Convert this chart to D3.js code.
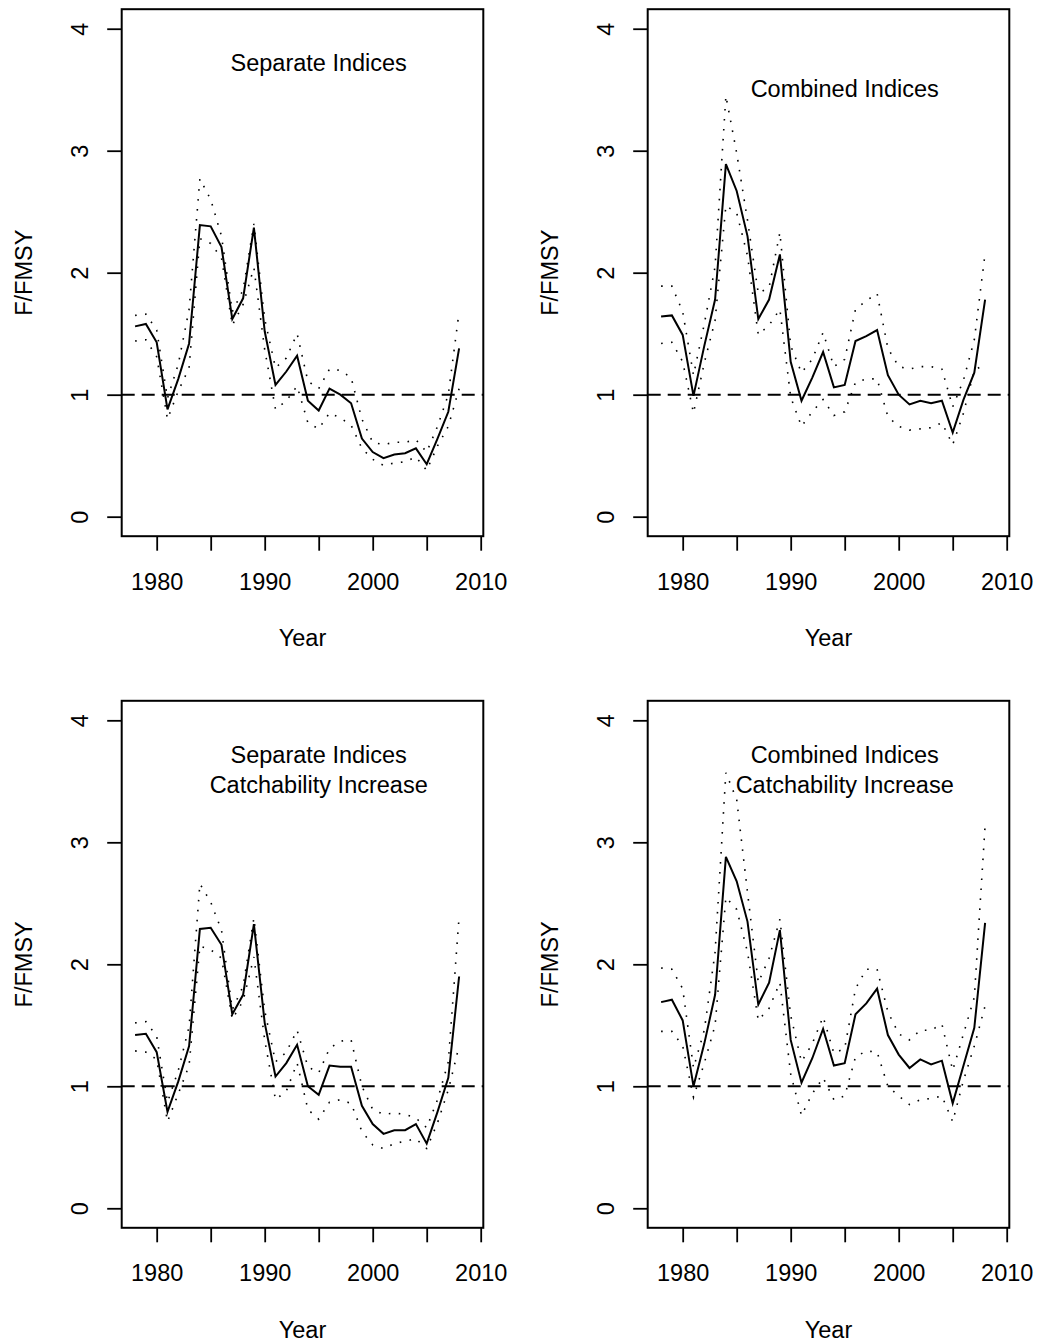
<!DOCTYPE html>
<html lang="en">
<head>
    <meta charset="UTF-8">
    <title>F/FMSY estimates</title>
    <script src="https://d3js.org/d3.v7.min.js"></script>
    <style>
        body {
            margin: 0;
            background: #fff;
        }

        svg text {
            font-family: "Liberation Sans", Arial, sans-serif;
            font-size: 23.5px;
            fill: #000;
        }

        .box {
            fill: none;
            stroke: #000;
            stroke-width: 2px;
        }

        .axis line {
            stroke: #000;
            stroke-width: 1.8px;
        }

        .est {
            fill: none;
            stroke: #000;
            stroke-width: 2px;
        }

        .ci {
            fill: none;
            stroke: #000;
            stroke-width: 1.6px;
            stroke-dasharray: 1.6 8.4;
        }

        .ref {
            stroke: #000;
            stroke-width: 2px;
            stroke-dasharray: 13 7;
        }
    </style>
</head>
<body>
<svg id="chart"></svg>
<script>
    // years 1978 - 2008
    const years = d3.range(1978, 2009);

    // Separate indices
    const sepEst   = [1.56, 1.58, 1.43, 0.88, 1.13, 1.42, 2.39, 2.38, 2.21, 1.62, 1.79, 2.37, 1.52, 1.08, 1.19, 1.32,
                      0.95, 0.87, 1.05, 1.00, 0.93, 0.64, 0.53, 0.48, 0.51, 0.52, 0.56, 0.43, 0.64, 0.86, 1.38];
    const sepUpper = [1.65, 1.66, 1.53, 0.97, 1.25, 1.70, 2.77, 2.60, 2.30, 1.68, 1.86, 2.40, 1.62, 1.22, 1.30, 1.50,
                      1.11, 1.05, 1.21, 1.20, 1.14, 0.80, 0.61, 0.59, 0.61, 0.61, 0.63, 0.53, 0.74, 1.00, 1.68];
    const sepLower = [1.44, 1.45, 1.31, 0.80, 1.03, 1.22, 2.28, 2.24, 2.12, 1.57, 1.74, 2.04, 1.37, 0.88, 0.95, 1.07,
                      0.77, 0.72, 0.85, 0.81, 0.75, 0.56, 0.47, 0.42, 0.44, 0.45, 0.49, 0.38, 0.58, 0.74, 1.05];

    // Combined indices
    const combEst   = [1.64, 1.65, 1.49, 0.99, 1.40, 1.78, 2.89, 2.67, 2.30, 1.62, 1.78, 2.15, 1.27, 0.95, 1.14, 1.35,
                       1.06, 1.08, 1.44, 1.48, 1.53, 1.16, 1.00, 0.92, 0.95, 0.93, 0.95, 0.69, 0.96, 1.18, 1.78];
    const combUpper = [1.89, 1.89, 1.68, 1.16, 1.58, 2.05, 3.45, 2.98, 2.43, 1.83, 1.88, 2.33, 1.40, 1.18, 1.29, 1.51,
                       1.23, 1.29, 1.70, 1.77, 1.83, 1.38, 1.23, 1.21, 1.23, 1.23, 1.21, 0.90, 1.12, 1.45, 2.16];
    const combLower = [1.42, 1.43, 1.27, 0.85, 1.26, 1.61, 2.55, 2.49, 2.14, 1.49, 1.57, 1.70, 0.98, 0.74, 0.86, 0.96,
                       0.83, 0.86, 1.10, 1.13, 1.13, 0.82, 0.74, 0.71, 0.72, 0.73, 0.77, 0.59, 0.85, 1.20, 1.25];

    // Separate indices, catchability increase
    const sepQEst   = [1.42, 1.43, 1.28, 0.79, 1.04, 1.33, 2.29, 2.30, 2.16, 1.59, 1.75, 2.33, 1.52, 1.08, 1.19, 1.34,
                       1.00, 0.93, 1.17, 1.16, 1.16, 0.84, 0.69, 0.61, 0.64, 0.64, 0.69, 0.53, 0.79, 1.07, 1.90];
    const sepQUpper = [1.52, 1.53, 1.41, 0.87, 1.13, 1.49, 2.66, 2.51, 2.28, 1.63, 1.82, 2.38, 1.62, 1.20, 1.28, 1.46,
                       1.16, 1.11, 1.31, 1.37, 1.38, 1.00, 0.81, 0.77, 0.78, 0.77, 0.74, 0.66, 0.89, 1.20, 2.39];
    const sepQLower = [1.29, 1.28, 1.22, 0.71, 0.94, 1.17, 2.15, 2.12, 2.05, 1.55, 1.70, 2.06, 1.38, 0.89, 0.96, 1.19,
                       0.81, 0.73, 0.87, 0.89, 0.86, 0.63, 0.52, 0.49, 0.53, 0.55, 0.57, 0.49, 0.70, 0.97, 1.33];

    // Combined indices, catchability increase
    const combQEst   = [1.69, 1.71, 1.54, 1.00, 1.35, 1.75, 2.88, 2.68, 2.35, 1.67, 1.85, 2.28, 1.38, 1.03, 1.23, 1.47,
                        1.17, 1.19, 1.59, 1.68, 1.80, 1.42, 1.26, 1.15, 1.22, 1.18, 1.21, 0.86, 1.17, 1.48, 2.34];
    const combQUpper = [1.97, 1.96, 1.80, 1.15, 1.46, 2.10, 3.57, 3.35, 2.59, 1.85, 2.05, 2.37, 1.58, 1.20, 1.35, 1.57,
                        1.27, 1.31, 1.80, 1.96, 1.96, 1.61, 1.43, 1.38, 1.46, 1.46, 1.51, 1.13, 1.43, 1.73, 3.14];
    const combQLower = [1.45, 1.45, 1.33, 0.91, 1.19, 1.50, 2.55, 2.45, 2.10, 1.54, 1.64, 1.85, 1.10, 0.76, 0.94, 1.07,
                        0.89, 0.92, 1.24, 1.29, 1.28, 1.00, 0.92, 0.85, 0.89, 0.90, 0.92, 0.71, 1.05, 1.33, 1.66];

    const xTicks = [1980, 1985, 1990, 1995, 2000, 2005, 2010];
    const yTicks = [0, 1, 2, 3, 4];

    const width = 1037;
    const height = 1343;

    const svg = d3.select("#chart")
        .attr("width", width)
        .attr("height", height);

    // plot region inside each panel (R style, 4% padding on the ranges)
    const plotLeft = 121.7, plotRight = 483.3, plotTop = 9.2, plotBottom = 536.2;
    const x = d3.scaleLinear().domain([1976.76, 2010.24]).range([plotLeft, plotRight]);
    const y = d3.scaleLinear().domain([-0.16, 4.16]).range([plotBottom, plotTop]);

    const panels = [
        {dx: 0, dy: 0, est: sepEst, upper: sepUpper, lower: sepLower, title: ["Separate Indices"], titleY: 3.72},
        {dx: 526, dy: 0, est: combEst, upper: combUpper, lower: combLower, title: ["Combined Indices"], titleY: 3.51},
        {dx: 0, dy: 691.6, est: sepQEst, upper: sepQUpper, lower: sepQLower,
            title: ["Separate Indices", "Catchability Increase"], titleY: 3.595},
        {dx: 526, dy: 691.6, est: combQEst, upper: combQUpper, lower: combQLower,
            title: ["Combined Indices", "Catchability Increase"], titleY: 3.595}
    ];

    const line = d3.line()
        .x((d, i) => x(years[i]))
        .y(d => y(d));

    panels.forEach(p => {
        const g = svg.append("g").attr("transform", `translate(${p.dx},${p.dy})`);

        // reference line at F = FMSY
        g.append("line")
            .attr("class", "ref")
            .attr("x1", plotLeft).attr("x2", plotRight)
            .attr("y1", y(1)).attr("y2", y(1));

        g.append("path").attr("class", "ci").attr("d", line(p.upper));
        g.append("path").attr("class", "ci").attr("d", line(p.lower));
        g.append("path").attr("class", "est").attr("d", line(p.est));

        // panel title, lines centred on titleY
        const lineH = 30;
        p.title.forEach((t, i) => {
            g.append("text")
                .attr("x", x(1995))
                .attr("y", y(p.titleY) + (i - (p.title.length - 1) / 2) * lineH)
                .attr("dy", "0.36em")
                .attr("text-anchor", "middle")
                .text(t);
        });

        // x axis: ticks every 5 years, labels every 10
        const xAxis = g.append("g")
            .attr("class", "axis")
            .attr("transform", `translate(0,${plotBottom})`)
            .call(d3.axisBottom(x)
                .tickValues(xTicks)
                .tickSize(14.5)
                .tickFormat(d => d % 10 === 0 ? d : ""));
        xAxis.select(".domain").remove();
        xAxis.selectAll("text")
            .attr("y", 45)
            .attr("dy", "0.36em");

        // y axis with labels parallel to the axis
        const yAxis = g.append("g")
            .attr("class", "axis")
            .attr("transform", `translate(${plotLeft},0)`)
            .call(d3.axisLeft(y)
                .tickValues(yTicks)
                .tickSize(14.5)
                .tickFormat(d3.format("d")));
        yAxis.select(".domain").remove();
        yAxis.selectAll("text")
            .attr("x", 0)
            .attr("y", 0)
            .attr("dy", "0.36em")
            .attr("text-anchor", "middle")
            .attr("transform", `translate(${80 - plotLeft},0) rotate(-90)`);

        // box
        g.append("rect")
            .attr("class", "box")
            .attr("x", plotLeft).attr("y", plotTop)
            .attr("width", plotRight - plotLeft).attr("height", plotBottom - plotTop);

        // axis titles
        g.append("text")
            .attr("x", (plotLeft + plotRight) / 2)
            .attr("y", 638)
            .attr("dy", "0.36em")
            .attr("text-anchor", "middle")
            .text("Year");

        g.append("text")
            .attr("transform", `translate(24,${(plotTop + plotBottom) / 2}) rotate(-90)`)
            .attr("dy", "0.36em")
            .attr("text-anchor", "middle")
            .text("F/FMSY");
    });

    svg.selectAll(".axis text")
        .attr("fill", "#000")
        .style("font-family", "'Liberation Sans', Arial, sans-serif")
        .style("font-size", "23.5px");
</script>
</body>
</html>
